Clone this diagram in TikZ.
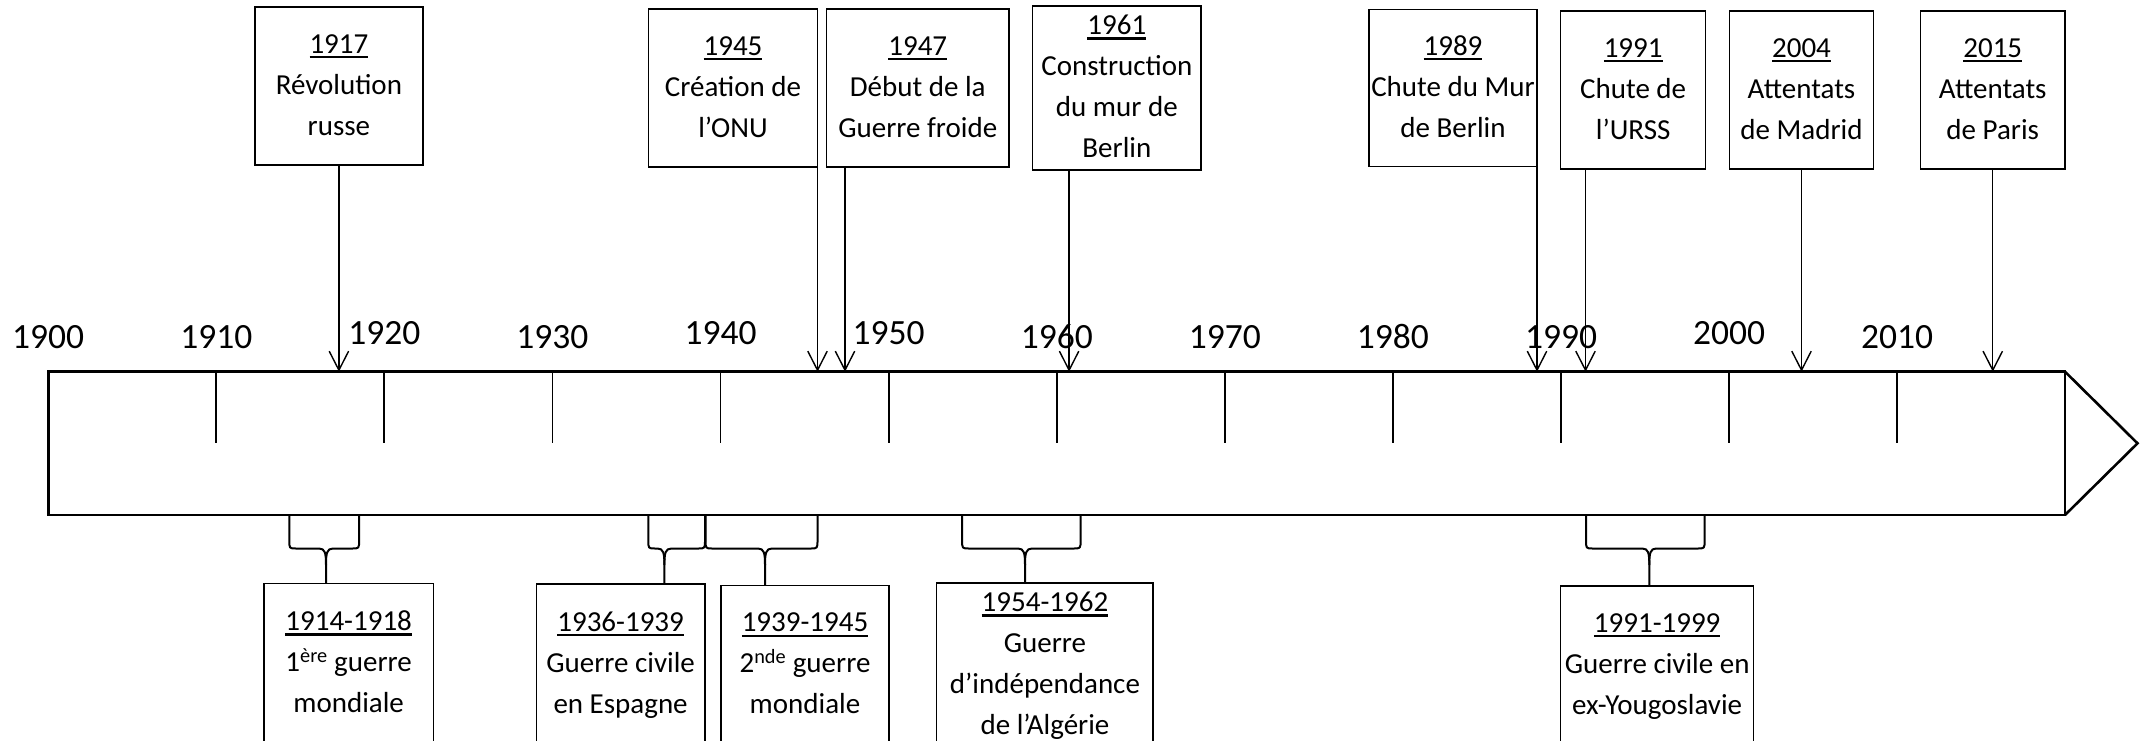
\documentclass[tikz,border=0pt]{standalone}
\usepackage{fontspec}
\setmainfont{Carlito}
\usetikzlibrary{arrows.meta,calc}
\newcommand{\uyr}[1]{\setbox0\hbox{#1}\rlap{\rule[-5pt]{\wd0}{2.3pt}}\box0}
\newcommand{\tlbrace}[4]{%
  \draw[bracestyle] (#1,515) -- (#1,540) .. controls (#1,548.5) .. (#1+7,548.5) -- (#3-7,548.5)
     .. controls (#3-1,548.5) and (#3,553) .. (#3,565) coordinate (cusp#4) -- (cusp#4 |- #4.north);
  \draw[bracestyle] (#2,515) -- (#2,540) .. controls (#2,548.5) .. (#2-7,548.5) -- (#3+7,548.5)
     .. controls (#3+1,548.5) and (#3,553) .. (#3,565);
}
\begin{document}
\begin{tikzpicture}[x=1pt,y=-1pt,
  evbox/.style={draw, line width=1.3pt, inner sep=0pt, outer sep=0pt, align=center,
                font=\fontsize{29}{41}\selectfont},
  yearlbl/.style={inner sep=0pt, outer sep=0pt, font=\fontsize{35.5}{42}\selectfont},
  axisline/.style={line width=2.6pt, line join=miter},
  tickline/.style={line width=1.8pt},
  evarrow/.style={line width=1.4pt, -{Straight Barb[length=19pt,width=19.4pt,line width=1.4pt]}},
  bracestyle/.style={line width=2pt, line join=round}
]
\useasboundingbox (0,0) rectangle (2146,741);
\clip (0,0) rectangle (2146,741);

% main time axis
\node[draw, axisline, inner sep=0pt, outer sep=0pt, minimum width=2016.8pt, minimum height=143.3pt]
  (axis) at (1056.6,443.35) {};
\draw[axisline] (axis.north east) -- ($(axis.east)+(72.5,0)$) coordinate (tip) -- (axis.south east);

% ticks
\foreach \k in {1,...,11}
  \draw[tickline] ($(axis.north west)+(\k*168.09,0)$) -- ++(0,71.6);

% year labels
\foreach \k/\yb in {0/348,1/348,2/344.5,3/348,4/344.5,5/344.5,6/348,7/348,8/348,9/348,10/344.5,11/348} {
  \pgfmathtruncatemacro\yearval{1900+10*\k}
  \node[yearlbl, anchor=base] (y\yearval) at (48.2+\k*168.09,\yb) {\yearval};
}

% top event boxes
\node[evbox, minimum width=168pt,   minimum height=158pt] (b1917) at (338.9,86)
  {\strut\uyr{1917}\\Révolution\\russe\strut};
\node[evbox, minimum width=169pt,   minimum height=158pt] (b1945) at (733,88)
  {\strut\uyr{1945}\\Création de\\l’ONU\strut};
\node[evbox, minimum width=182.3pt, minimum height=158pt] (b1947) at (917.75,88)
  {\strut\uyr{1947}\\Début de la\\Guerre froide\strut};
\node[evbox, minimum width=168.1pt, minimum height=158pt] (b1961) at (1116.85,88)
  {\strut\uyr{1961}\\Construction\\du mur de\\Berlin\strut};
\node[evbox, minimum width=168pt,   minimum height=157.4pt] (b1989) at (1453,88)
  {\strut\uyr{1989}\\Chute du Mur\\de Berlin\strut};
\node[evbox, minimum width=144.9pt, minimum height=158pt] (b1991) at (1633.15,90)
  {\strut\uyr{1991}\\Chute de\\l’URSS\strut};
\node[evbox, minimum width=144.4pt, minimum height=158pt] (b2004) at (1801.5,90)
  {\strut\uyr{2004}\\Attentats\\de Madrid\strut};
\node[evbox, minimum width=144.3pt, minimum height=158pt] (b2015) at (1992.75,90)
  {\strut\uyr{2015}\\Attentats\\de Paris\strut};

% arrows from top boxes to the axis
\coordinate (a1917) at (b1917.south);
\coordinate (a1945) at (b1945.south east);
\coordinate (a1947) at ($(b1947.south west)+(18.4,0)$);
\coordinate (a1961) at ($(b1961.south west)+(36.3,0)$);
\coordinate (a1989) at (b1989.south east);
\coordinate (a1991) at ($(b1991.south west)+(24.8,0)$);
\coordinate (a2004) at (b2004.south);
\coordinate (a2015) at (b2015.south);
\foreach \a in {a1917,a1945,a1947,a1961,a1989,a1991,a2004,a2015}
  \draw[evarrow] (\a) -- (\a |- axis.north);

% bottom period boxes
\node[evbox, minimum width=169.3pt, minimum height=160pt] (c1914) at (348.65,663.4)
  {\strut\uyr{1914-1918}\\1\textsuperscript{ère} guerre\\mondiale\strut};
\node[evbox, minimum width=168.6pt, minimum height=160pt] (c1936) at (620.6,664)
  {\strut\uyr{1936-1939}\\Guerre civile\\en Espagne\strut};
\node[evbox, minimum width=168.1pt, minimum height=158pt] (c1939) at (805,664.7)
  {\strut\uyr{1939-1945}\\2\textsuperscript{nde} guerre\\mondiale\strut};
\node[evbox, minimum width=216.3pt, minimum height=162pt] (c1954) at (1044.95,665)
  {\strut\uyr{1954-1962}\\Guerre\\d’indépendance\\de l’Algérie\strut};
\node[evbox, minimum width=192.9pt, minimum height=158pt] (c1991) at (1657.15,665)
  {\strut\uyr{1991-1999}\\Guerre civile en\\ex-Yougoslavie\strut};

% braces from the axis to the period boxes
\tlbrace{289.3}{359.1}{326}{c1914}
\tlbrace{648.3}{705}{664.4}{c1936}
\tlbrace{705.5}{817.5}{765}{c1939}
\tlbrace{962.1}{1080.6}{1025}{c1954}
\tlbrace{1586}{1704.6}{1649.3}{c1991}
\end{tikzpicture}
\end{document}
